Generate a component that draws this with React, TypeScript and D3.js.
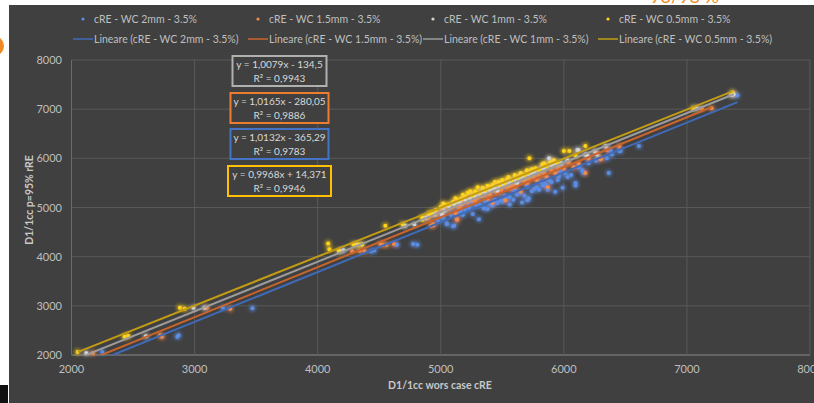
import React from 'react';
import * as d3 from 'd3';

// series names + colours
const seriesNames = ['cRE - WC 2mm - 3.5%', 'cRE - WC 1.5mm - 3.5%', 'cRE - WC 1mm - 3.5%', 'cRE - WC 0.5mm - 3.5%'];
const markerColors = ['#5b8de3', '#f08a4b', '#d2d2d2', '#ffd21f'];
const lineColors = ['#3f6bb8', '#c9652c', '#9c9c9c', '#c29c12'];
const boxColors = ['#4472c4', '#ed7d31', '#b0b0b0', '#ffc000'];

// fits as Excel reported them: slope, intercept, label lines
const fitSlope = [1.0132, 1.0165, 1.0079, 0.9968];
const fitIntercept = [-365.29, -280.05, -134.5, 14.371];
const fitLabels = [
  ['y = 1,0132x - 365,29', 'R² = 0,9783'],
  ['y = 1,0165x - 280,05', 'R² = 0,9886'],
  ['y = 1,0079x - 134,5', 'R² = 0,9943'],
  ['y = 0,9968x + 14,371', 'R² = 0,9946'],
];
// order the boxes are stacked in (top to bottom)
const boxOrder = [2, 1, 0, 3];

const xTicks = [2000, 3000, 4000, 5000, 6000, 7000, 8000];
const yTicks = [2000, 3000, 4000, 5000, 6000, 7000, 8000];

const wc2mm: [number, number][] = [
  [2250, 2060], [2860, 2370], [2870, 2400], [3230, 2960], [3470, 2950],
  [4435, 4110], [4460, 4130], [4645, 4240], [4775, 4260], [4810, 4240],
  [4980, 4720], [5020, 4790], [5050, 4660], [5050, 4680], [5080, 4850], [5100, 4620], [5110, 4630],
  [5130, 4880], [5160, 4930], [5180, 4850], [5200, 4950], [5230, 4990], [5260, 4870], [5290, 5020],
  [5310, 4760], [5320, 5050], [5350, 4980], [5380, 4970], [5400, 5080], [5420, 5040], [5460, 5090],
  [5480, 5150], [5500, 5120], [5530, 5180], [5560, 5220], [5590, 5160], [5620, 5260], [5650, 5300],
  [5680, 5240], [5705, 5150], [5715, 5190], [5740, 5330], [5760, 5380], [5780, 5410], [5800, 5360],
  [5830, 5450], [5850, 5480], [5870, 5360], [5900, 5520], [5930, 5320], [5950, 5560], [5970, 5740],
  [5990, 5400], [6030, 5620], [6060, 5660], [6095, 5450], [6095, 5500], [6120, 5820], [6150, 5760],
  [6160, 5700], [6200, 5900], [6260, 5950], [6350, 6000], [6365, 5700], [6380, 6170], [6390, 6080],
  [6450, 6150], [6460, 6150], [6610, 6250], [7410, 7280],
  [5240, 5060], [5360, 5120], [5440, 5160], [5520, 5240], [5600, 5330], [5700, 5420], [5820, 5520],
  [5880, 5560], [5960, 5630], [6010, 5700], [5560, 5060], [5660, 5100],
];

const wc15mm: [number, number][] = [
  [2175, 2040], [2720, 2400], [2735, 2370], [3100, 2960], [3290, 2940],
  [4280, 4110], [4340, 4120], [4380, 4110], [4510, 4260], [4525, 4240], [4560, 4240], [4620, 4260],
  [4900, 4780], [4920, 4630], [4940, 4660], [4940, 4640], [4960, 4850], [5000, 4900], [5050, 4960],
  [5090, 5010], [5120, 4890], [5130, 4760], [5135, 4750], [5150, 5000], [5180, 5080], [5220, 5110],
  [5260, 5160], [5300, 5200], [5340, 5240], [5380, 5180], [5420, 5090], [5450, 5320], [5490, 5350],
  [5525, 5150], [5540, 5400], [5580, 5440], [5620, 5480], [5650, 5320], [5680, 5530], [5720, 5560],
  [5760, 5600], [5800, 5640], [5840, 5680], [5870, 5410], [5900, 5740], [5950, 5780], [6000, 5800],
  [6080, 5820], [6120, 5900], [6175, 5700], [6200, 6000], [6265, 6120], [6300, 6000], [6300, 5980],
  [6350, 6170], [6450, 6250], [7120, 7020], [7200, 7020],
  [5200, 5150], [5280, 5120], [5360, 5300], [5400, 5260], [5470, 5300], [5560, 5380], [5600, 5420],
  [5700, 5500], [5780, 5560], [5860, 5620], [5930, 5700], [6040, 5900],
];

const wc1mm: [number, number][] = [
  [2120, 2040], [2605, 2380], [2990, 2960], [3080, 2960],
  [4180, 4110], [4210, 4130], [4320, 4250], [4360, 4250], [4710, 4630], [4785, 4660],
  [4880, 4790], [4950, 4860], [5010, 4860], [5030, 4940], [5070, 5000], [5110, 5050], [5160, 5080],
  [5200, 5150], [5240, 5180], [5280, 5230], [5320, 5260], [5360, 5310], [5400, 5350], [5440, 5380],
  [5480, 5420], [5520, 5460], [5560, 5500], [5600, 5540], [5640, 5580], [5680, 5620], [5720, 5660],
  [5760, 5700], [5800, 5740], [5840, 5780], [5880, 6000], [5900, 5850], [5950, 5880], [5980, 5900],
  [6030, 5960], [6110, 6170], [6120, 6170], [6175, 6080], [6190, 6060], [6250, 6150], [6270, 6080],
  [6340, 6250], [7080, 7020], [7360, 7290], [7380, 7300],
  [5140, 5120], [5260, 5250], [5340, 5330], [5420, 5420], [5500, 5490], [5580, 5560], [5660, 5640],
  [5740, 5720], [5820, 5800], [5920, 5900], [5460, 5340], [5620, 5500],
];

const wc05mm: [number, number][] = [
  [2050, 2060], [2430, 2370], [2460, 2390], [2880, 2960], [2920, 2940],
  [4085, 4270], [4095, 4150], [4170, 4120], [4290, 4250], [4330, 4250], [4360, 4250],
  [4550, 4630], [4690, 4660], [4850, 4750], [4850, 4800], [4900, 4870], [4920, 4860], [4920, 4900],
  [4960, 4950], [5000, 5010], [5040, 5050], [5070, 5060], [5100, 5110], [5140, 5150], [5170, 5180],
  [5200, 5220], [5240, 5330], [5260, 5250], [5300, 5410], [5320, 5300], [5360, 5350], [5400, 5400],
  [5440, 5520], [5470, 5520], [5480, 5460], [5520, 5500], [5550, 5620], [5580, 5560], [5620, 5600],
  [5650, 5700], [5680, 5650], [5710, 5700], [5720, 6000], [5770, 5800], [5800, 5760], [5825, 5880],
  [5860, 5840], [5890, 5920], [5950, 5900], [6000, 6150], [6045, 6150], [6095, 6060], [6175, 6250],
  [7050, 7020], [7370, 7340],
  [5020, 5080], [5120, 5190], [5180, 5260], [5220, 5300], [5280, 5330], [5340, 5400], [5380, 5440],
  [5420, 5460], [5500, 5560], [5540, 5580], [5600, 5660], [5640, 5640], [5700, 5760], [5740, 5780],
  [5840, 5900], [5920, 5960],
];

const seriesData = [wc2mm, wc15mm, wc1mm, wc05mm];

const W = 814;
const H = 403;
const FONT = 'Lato, "Liberation Sans", sans-serif';

export default function App() {
  const x = d3.scaleLinear().domain([2000, 8000]).range([71.5, 810]);
  const y = d3.scaleLinear().domain([2000, 8000]).range([355, 60]);
  const line = d3.line<number[]>().x(v => x(v[0])).y(v => y(v[1]));

  // legend slots
  const legendX = [83, 258, 433, 608];

  return (
    <svg width={W} height={H} style={{ position: 'absolute', left: 0, top: 0, background: '#fff' }}>
      <defs>
        <filter id="glow" x="-100%" y="-100%" width="300%" height="300%">
          <feGaussianBlur in="SourceGraphic" stdDeviation="2" result="b" />
          <feMerge>
            <feMergeNode in="b" />
            <feMergeNode in="b" />
            <feMergeNode in="SourceGraphic" />
          </feMerge>
        </filter>
        <clipPath id="plot">
          <rect x={x(2000)} y={y(8000)} width={x(8000) - x(2000)} height={y(2000) - y(8000)} />
        </clipPath>
      </defs>

      {/* bits of the slide around the chart */}
      <text x={650} y={3} fontSize={18} fill="#f08a24" fontFamily={FONT}>93/98 %</text>
      <rect x={9} y={5} width={W - 9} height={H - 5} fill="#404040" />
      <circle cx={-6} cy={46} r={10} fill="#f08a24" />
      <rect x={0} y={385} width={8} height={18} fill="#111" />

      {/* grid */}
      {yTicks.map(t => (
        <line key={'gy' + t} x1={x(2000)} x2={x(8000)} y1={y(t)} y2={y(t)} stroke={t === 2000 ? '#8a8a8a' : '#585858'} strokeWidth={1} />
      ))}
      {xTicks.map(t => (
        <line key={'gx' + t} x1={x(t)} x2={x(t)} y1={y(8000)} y2={y(2000)} stroke={t === 2000 ? '#6a6a6a' : '#585858'} strokeWidth={1} />
      ))}

      {/* tick labels */}
      {yTicks.map(t => (
        <text key={'ly' + t} x={62} y={y(t) + 4} textAnchor="end" fontSize={11} fill="#bfbfbf" fontFamily={FONT}>{t}</text>
      ))}
      {xTicks.map(t => (
        <text key={'lx' + t} x={x(t)} y={373} textAnchor="middle" fontSize={11} fill="#bfbfbf" fontFamily={FONT}>{t}</text>
      ))}

      {/* axis titles */}
      <text x={440} y={389} textAnchor="middle" fontSize={10.5} fontWeight="bold" fill="#c8c8c8" fontFamily={FONT}>D1/1cc wors case cRE</text>
      <text transform="translate(33,200) rotate(-90)" textAnchor="middle" fontSize={10.5} fontWeight="bold" fill="#c8c8c8" fontFamily={FONT}>D1/1cc p=95% rRE</text>

      {/* points */}
      <g filter="url(#glow)">
        {seriesData.map((pts, i) => (
          <g key={'s' + i}>
            {pts.map((p, j) => (
              <circle key={j} cx={x(p[0])} cy={y(p[1])} r={2} fill={markerColors[i]} />
            ))}
          </g>
        ))}
      </g>

      {/* trend lines over the data range */}
      <g clipPath="url(#plot)">
        {seriesData.map((pts, i) => {
          const [x0, x1] = d3.extent(pts, p => p[0]) as [number, number];
          const ends = [x0, x1].map(v => [v, fitSlope[i] * v + fitIntercept[i]]);
          return <path key={'t' + i} d={line(ends) || ''} stroke={lineColors[i]} strokeWidth={2} fill="none" />;
        })}
      </g>

      {/* fit label boxes */}
      {boxOrder.map((si, k) => {
        const cy = [71, 108, 144, 181][k];
        const wBox = si === 3 ? 103 : si === 2 ? 94 : 98;
        return (
          <g key={'b' + si}>
            <rect x={279.5 - wBox / 2} y={cy - 15} width={wBox} height={30} fill="#404040" stroke={boxColors[si]} strokeWidth={2} />
            <text x={279.5} y={cy - 3} textAnchor="middle" fontSize={10} fill="#d9d9d9" fontFamily={FONT}>{fitLabels[si][0]}</text>
            <text x={279.5} y={cy + 11} textAnchor="middle" fontSize={10} fill="#d9d9d9" fontFamily={FONT}>{fitLabels[si][1]}</text>
          </g>
        );
      })}

      {/* legend */}
      {seriesNames.map((n, i) => (
        <g key={'lg' + i}>
          <circle cx={legendX[i]} cy={19} r={1.6} fill={markerColors[i]} />
          <text x={legendX[i] + 11} y={23} fontSize={10.5} fill="#bfbfbf" fontFamily={FONT}>{n}</text>
          <line x1={legendX[i] - 10} x2={legendX[i] + 10} y1={39} y2={39} stroke={lineColors[i]} strokeWidth={1.5} />
          <text x={legendX[i] + 11} y={43} fontSize={10.5} fill="#bfbfbf" fontFamily={FONT}>{'Lineare (' + n + ')'}</text>
        </g>
      ))}
    </svg>
  );
}
